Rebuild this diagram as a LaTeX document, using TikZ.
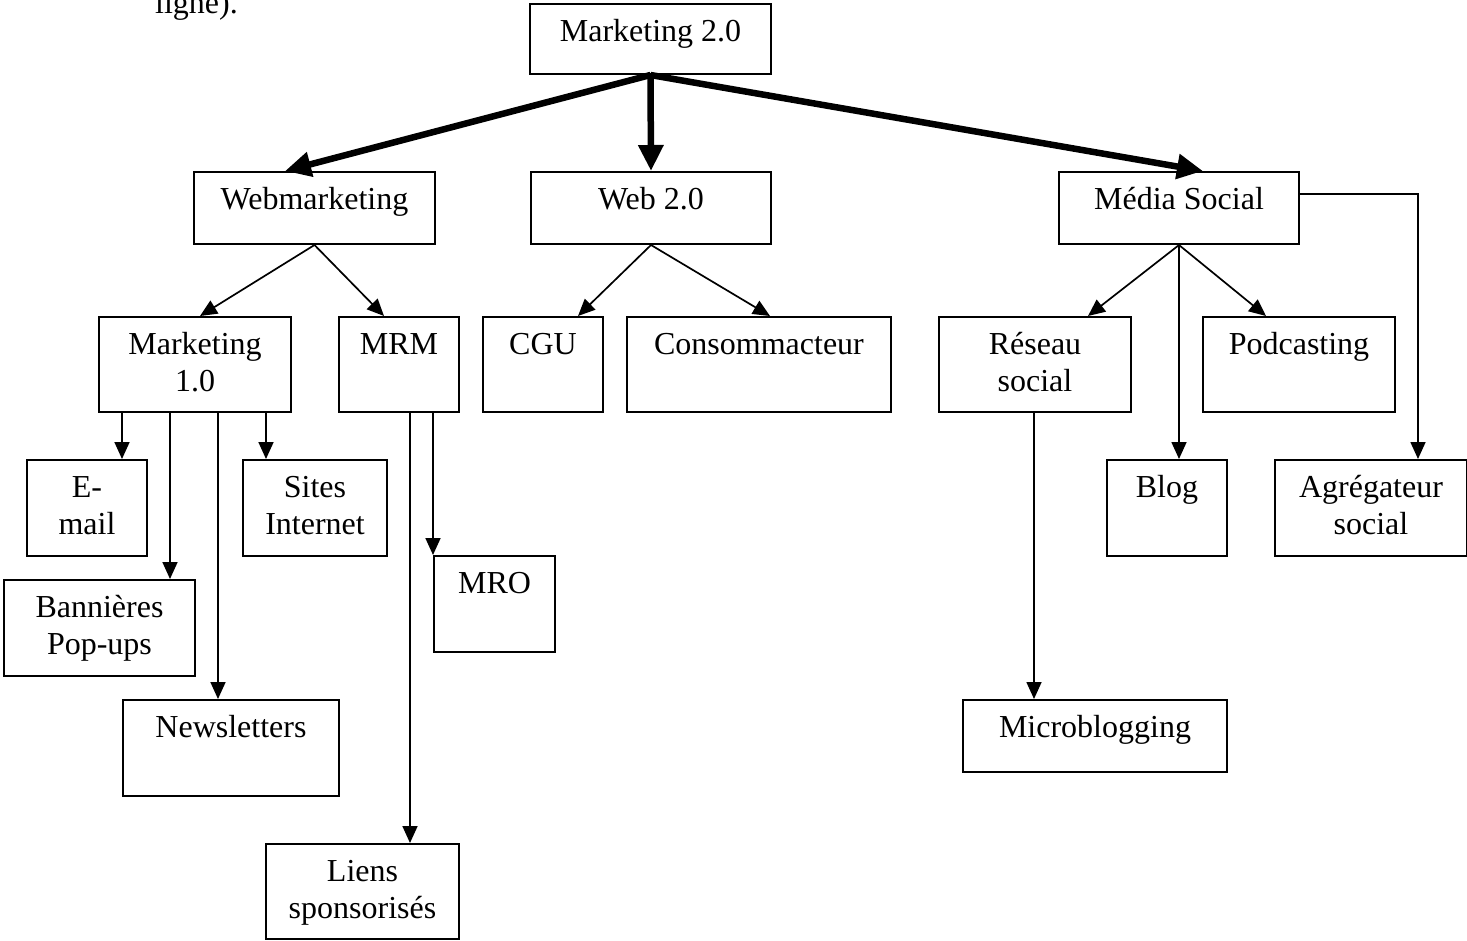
\documentclass[tikz,border=0pt]{standalone}
\usepackage{fontspec}
\setmainfont{Liberation Serif}
\usetikzlibrary{arrows.meta,calc}
\begin{document}
\begin{tikzpicture}[x=1pt,y=-1pt,
  box/.style={draw=black,line width=2pt,rectangle,inner sep=0pt,anchor=north west},
  txt/.style={inner sep=0pt,anchor=base,font=\fontsize{32}{37}\selectfont},
  thin/.style={line width=1.7pt,-{Triangle[length=17pt,width=15pt]}},
  thick/.style={line width=6.5pt,-{Triangle[length=26pt,width=24pt]}}]
\useasboundingbox (0,0) rectangle (1467,940);
% boxes: name, x, y, w, h
\newcommand{\bx}[6]{%
  \node[box,minimum width=#4pt,minimum height=#5pt] (#1) at (#2,#3) {};
  \node[txt] (#1-t) at ($(#1.north)+(0,38)$) {\begin{tabular}[t]{@{}c@{}}#6\end{tabular}};}
\bx{m2}{529}{3}{241}{70}{Marketing 2.0}
\bx{wm}{193}{171}{241}{72}{Webmarketing}
\bx{w2}{530}{171}{240}{72}{Web 2.0}
\bx{ms}{1058}{171}{240}{72}{Média Social}
\bx{m1}{98}{316}{192}{95}{Marketing\\1.0}
\bx{mrm}{338}{316}{120}{95}{MRM}
\bx{cgu}{482}{316}{120}{95}{CGU}
\bx{cons}{626}{316}{264}{95}{Consommacteur}
\bx{rs}{938}{316}{192}{95}{Réseau\\social}
\bx{pod}{1202}{316}{192}{95}{Podcasting}
\bx{em}{26}{459}{120}{96}{E-\\mail}
\bx{si}{242}{459}{144}{96}{Sites\\Internet}
\bx{ban}{3}{579}{191}{96}{Bannières\\Pop-ups}
\bx{mro}{433}{555}{121}{96}{MRO}
\bx{nl}{122}{699}{216}{96}{Newsletters}
\bx{lien}{265}{843}{193}{95}{Liens\\sponsorisés}
\bx{blog}{1106}{459}{120}{96}{Blog}
\bx{agr}{1274}{459}{192}{96}{Agrégateur\\social}
\bx{micro}{962}{699}{264}{72}{Microblogging}
% clipped text at top
\node[txt,anchor=base west] (lig) at (155,13) {ligne).};
% thick arrows
\coordinate (m2b) at ($(m2.south)+(0,0)$);
\draw[thick] (m2b) -- ($(wm.north west)+(92,0)$);
\draw[thick] (m2b) -- (w2.north);
\draw[thick] (m2b) -- ($(ms.north west)+(145,0)$);
% Webmarketing
\draw[thin] (wm.south) -- ($(m1.north west)+(102,0)$);
\draw[thin] (wm.south) -- ($(mrm.north west)+(46,0)$);
% Web 2.0
\draw[thin] (w2.south) -- ($(cgu.north west)+(96,0)$);
\draw[thin] (w2.south) -- ($(cons.north west)+(144,0)$);
% Media social
\draw[thin] (ms.south) -- ($(rs.north west)+(150,0)$);
\draw[thin] (ms.south) -- (ms.south |- blog.north);
\draw[thin] (ms.south) -- ($(pod.north west)+(64,0)$);
\draw[thin] ($(ms.north east)+(0,23)$) -| ($(agr.north west)+(144,0)$);
% Marketing 1.0 children
\draw[thin] ($(m1.south west)+(24,0)$) -- ($(em.north west)+(96,0)$);
\draw[thin] ($(m1.south west)+(72,0)$) -- ($(ban.north west)+(167,0)$);
\draw[thin] ($(m1.south west)+(120,0)$) -- ($(nl.north west)+(96,0)$);
\draw[thin] ($(m1.south west)+(168,0)$) -- ($(si.north west)+(24,0)$);
% MRM children
\draw[thin] ($(mrm.south west)+(72,0)$) -- ($(lien.north west)+(145,0)$);
\draw[thin] ($(mrm.south west)+(95,0)$) -- (mro.north west);
% Reseau social
\draw[thin] ($(rs.south west)+(96,0)$) -- ($(micro.north west)+(72,0)$);
\end{tikzpicture}
\end{document}
